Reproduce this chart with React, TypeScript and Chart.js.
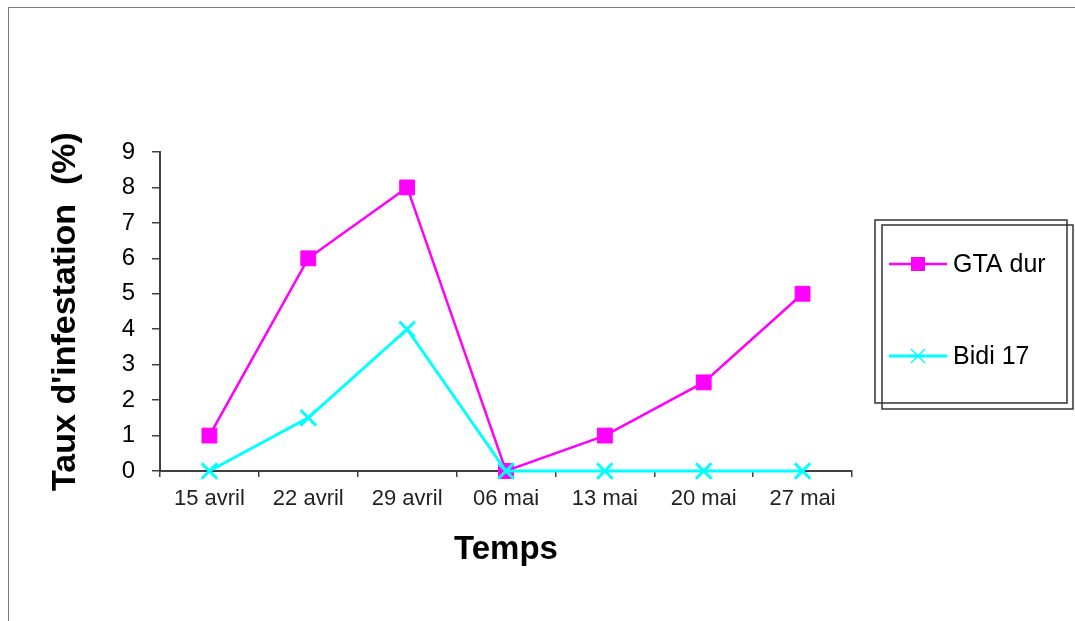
import React, { useEffect, useRef } from "react";
import { Chart, registerables } from "chart.js";

Chart.register(...registerables);

const categories = ["15 avril", "22 avril", "29 avril", "06 mai", "13 mai", "20 mai", "27 mai"];
const gtaDur = [1, 6, 8, 0, 1, 2.5, 5];
const bidi17 = [0, 1.5, 4, 0, 0, 0, 0];
const seriesNames = ["GTA dur", "Bidi 17"];
const yTitle = "Taux d'infestation  (%)";
const xTitle = "Temps";

const MAGENTA = "#FF00FF";
const CYAN = "#00FFFF";
const FONT = "'Liberation Sans', Arial, sans-serif";

const legendPlugin = {
  id: "customLegend",
  afterDraw(chart: any) {
    const ctx = chart.ctx as CanvasRenderingContext2D;
    ctx.save();
    ctx.strokeStyle = "#333333";
    ctx.lineWidth = 1.5;
    ctx.strokeRect(866, 212, 192, 183);
    ctx.strokeRect(873, 217, 191, 184);
    const rows = [256, 348];
    chart.data.datasets.forEach((ds: any, i: number) => {
      const y = rows[i];
      ctx.strokeStyle = ds.borderColor;
      ctx.lineWidth = i === 0 ? 2.5 : 3;
      ctx.beginPath();
      ctx.moveTo(880, y);
      ctx.lineTo(938, y);
      ctx.stroke();
      const cx = 909;
      if (i === 0) {
        ctx.fillStyle = ds.borderColor;
        ctx.fillRect(cx - 7, y - 7, 14, 14);
      } else {
        ctx.lineWidth = 1.5;
        ctx.beginPath();
        ctx.moveTo(cx - 7, y - 7);
        ctx.lineTo(cx + 7, y + 7);
        ctx.moveTo(cx + 7, y - 7);
        ctx.lineTo(cx - 7, y + 7);
        ctx.stroke();
      }
      ctx.fillStyle = "#000";
      ctx.font = `25px ${FONT}`;
      ctx.textBaseline = "middle";
      ctx.textAlign = "left";
      ctx.fillText(ds.label, 944, y + 1);
    });
    ctx.restore();
  },
};

export default function App() {
  const ref = useRef<HTMLCanvasElement | null>(null);
  useEffect(() => {
    if (!ref.current) return;
    const chart = new Chart(ref.current, {
      type: "line",
      data: {
        labels: categories,
        datasets: [
          {
            label: seriesNames[0],
            data: gtaDur,
            borderColor: MAGENTA,
            backgroundColor: MAGENTA,
            borderWidth: 2.5,
            pointStyle: "rect",
            pointRadius: 10.5,
            pointBorderWidth: 1,
            tension: 0,
            clip: false,
            order: 1,
          },
          {
            label: seriesNames[1],
            data: bidi17,
            borderColor: CYAN,
            backgroundColor: CYAN,
            borderWidth: 3,
            pointStyle: "crossRot",
            pointRadius: 11,
            pointBorderWidth: 3,
            tension: 0,
            clip: false,
            order: 0,
          },
        ],
      },
      options: {
        animation: false,
        responsive: false,
        devicePixelRatio: 1,
        layout: { padding: { left: 0, top: 144, right: 223, bottom: 0 } },
        plugins: { legend: { display: false }, tooltip: { enabled: false } },
        scales: {
          x: {
            offset: true,
            afterFit: (s: any) => {
              s.height = 150;
            },
            grid: {
              offset: true,
              drawOnChartArea: false,
              drawTicks: true,
              tickLength: 6,
              color: "#404040",
              lineWidth: 1.5,
            },
            border: { color: "#404040", width: 2 },
            ticks: {
              color: "#222",
              font: { family: FONT, size: 22 },
              padding: 9,
              maxRotation: 0,
              autoSkip: false,
            },
            title: {
              display: true,
              text: xTitle,
              color: "#000",
              font: { family: FONT, size: 33, weight: "bold" },
              padding: { top: 0, bottom: 51 },
            },
          },
          y: {
            min: 0,
            max: 9,
            afterFit: (s: any) => {
              s.width = 151;
            },
            grid: {
              drawOnChartArea: false,
              drawTicks: true,
              tickLength: 8,
              color: "#404040",
              lineWidth: 1.5,
            },
            border: { color: "#404040", width: 2 },
            ticks: {
              stepSize: 1,
              color: "#000",
              font: { family: FONT, size: 24 },
              padding: 17,
            },
            title: {
              display: true,
              text: yTitle,
              color: "#000",
              font: { family: FONT, size: 34, weight: "bold" },
              padding: { top: 36, bottom: 0 },
            },
          },
        },
      },
      plugins: [legendPlugin],
    } as any);
    return () => chart.destroy();
  }, []);
  return (
    <div
      style={{
        position: "fixed",
        left: 8,
        top: 7,
        width: 1067,
        height: 614,
        borderLeft: "1px solid #7f7f7f",
        borderTop: "1px solid #7f7f7f",
        background: "#fff",
      }}
    >
      <canvas ref={ref} width={1066} height={613} style={{ display: "block" }} />
    </div>
  );
}
